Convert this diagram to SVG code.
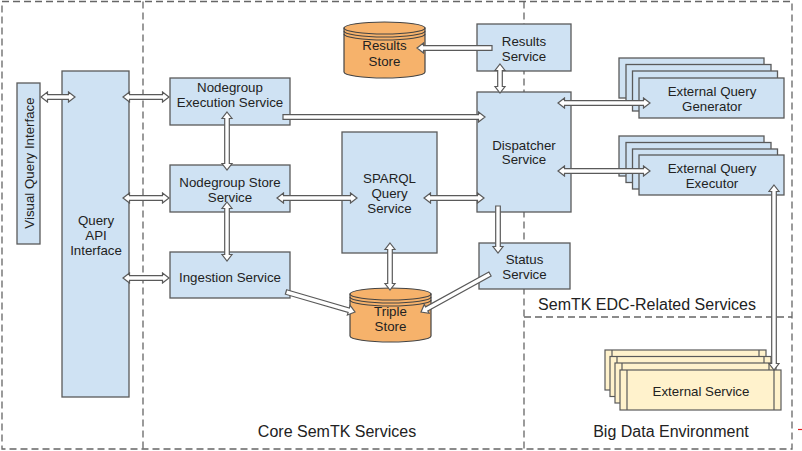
<svg xmlns="http://www.w3.org/2000/svg" width="802" height="451" viewBox="0 0 802 451">
<defs>
<style>
.frame{fill:none;stroke:#666;stroke-width:1.3;stroke-dasharray:7 4}
.box{fill:#cfe2f3;stroke:#5a5a5a;stroke-width:1.3}
.ext{fill:#fff2cc;stroke:#5a5a5a;stroke-width:1.2}
.can{fill:#f6b26b;stroke:#444;stroke-width:1.2}
.arr{fill:#fff;stroke:#5a5a5a;stroke-width:1.2;stroke-linejoin:miter}
text{font-family:"Liberation Sans",Arial,sans-serif;fill:#222}
.t{font-size:13.3px;text-anchor:middle}
.lbl{font-size:16px;text-anchor:middle}
</style>
</defs>
<rect width="802" height="451" fill="#fff"/>
<g id="frames">
<rect class="frame" x="2" y="1.5" width="790" height="447.5"/>
<line class="frame" x1="143" y1="1.5" x2="143" y2="449"/>
<line class="frame" x1="524" y1="1.5" x2="524" y2="449"/>
<line class="frame" x1="524" y1="317" x2="792" y2="317"/>
</g>
<g id="labels">
<text class="lbl" x="337" y="437">Core SemTK Services</text>
<text class="lbl" x="671" y="437">Big Data Environment</text>
<text class="lbl" x="647" y="310">SemTK EDC-Related Services</text>
</g>
<g id="visual-query-interface">
<rect class="box" x="17" y="83" width="23" height="161"/>
<text class="t" transform="translate(33.5,163) rotate(-90)">Visual Query Interface</text>
</g>
<g id="query-api-interface">
<rect class="box" x="62" y="71" width="67" height="326"/>
<text class="t" x="96" y="225">Query</text>
<text class="t" x="96" y="240">API</text>
<text class="t" x="96" y="255">Interface</text>
</g>
<g id="nodegroup-execution-service">
<rect class="box" x="170" y="78" width="120" height="47"/>
<text class="t" x="230" y="92">Nodegroup</text>
<text class="t" x="230" y="107">Execution Service</text>
</g>
<g id="nodegroup-store-service">
<rect class="box" x="170" y="165" width="120" height="47"/>
<text class="t" x="230" y="187">Nodegroup Store</text>
<text class="t" x="230" y="202">Service</text>
</g>
<g id="ingestion-service">
<rect class="box" x="170" y="252" width="120" height="46"/>
<text class="t" x="230" y="282">Ingestion Service</text>
</g>
<g id="sparql-query-service">
<rect class="box" x="342" y="132" width="95" height="121"/>
<text class="t" x="389.5" y="183">SPARQL</text>
<text class="t" x="389.5" y="198">Query</text>
<text class="t" x="389.5" y="213">Service</text>
</g>
<g id="results-service">
<rect class="box" x="477" y="24" width="94" height="47"/>
<text class="t" x="524" y="46">Results</text>
<text class="t" x="524" y="61">Service</text>
</g>
<g id="dispatcher-service">
<rect class="box" x="477" y="92" width="94" height="120"/>
<text class="t" x="524" y="150">Dispatcher</text>
<text class="t" x="524" y="164">Service</text>
</g>
<g id="status-service">
<rect class="box" x="479" y="243" width="91" height="46"/>
<text class="t" x="524.5" y="264">Status</text>
<text class="t" x="524.5" y="279">Service</text>
</g>
<g id="results-store">
<path class="can" d="M344,28 V72 A40.5,6 0 0 0 425,72 V28 Z"/>
<ellipse class="can" cx="384.5" cy="28" rx="40.5" ry="6"/>
<path class="can" fill="none" d="M344,31 A40.5,6 0 0 0 425,31 M344,34 A40.5,6 0 0 0 425,34" style="fill:none"/>
<text class="t" x="384.5" y="50">Results</text>
<text class="t" x="384.5" y="66">Store</text>
</g>
<g id="triple-store">
<path class="can" d="M350,294 V336 A40.5,6 0 0 0 431,336 V294 Z"/>
<ellipse class="can" cx="390.5" cy="294" rx="40.5" ry="6"/>
<path class="can" d="M350,297 A40.5,6 0 0 0 431,297 M350,300 A40.5,6 0 0 0 431,300" style="fill:none"/>
<text class="t" x="390.5" y="316">Triple</text>
<text class="t" x="390.5" y="331">Store</text>
</g>
<g id="external-query-generator">
<rect class="box" x="619" y="58" width="145" height="40"/>
<rect class="box" x="626" y="64.5" width="145" height="40"/>
<rect class="box" x="632.5" y="71" width="145" height="40"/>
<rect class="box" x="639" y="78" width="145" height="40"/>
<text class="t" x="712" y="96">External Query</text>
<text class="t" x="712" y="111">Generator</text>
</g>
<g id="external-query-executor">
<rect class="box" x="619" y="136" width="145" height="40"/>
<rect class="box" x="626" y="142.5" width="145" height="40"/>
<rect class="box" x="632.5" y="149" width="145" height="40"/>
<rect class="box" x="639" y="155" width="145" height="40"/>
<text class="t" x="712" y="173">External Query</text>
<text class="t" x="712" y="188">Executor</text>
</g>
<g id="external-service">
<rect class="ext" x="605" y="350" width="161" height="40"/>
<path class="ext" d="M612,350 V390 M759,350 V390" style="fill:none"/>
<rect class="ext" x="610" y="356.5" width="161" height="40"/>
<path class="ext" d="M617,356.5 V396.5 M764,356.5 V396.5" style="fill:none"/>
<rect class="ext" x="615" y="363" width="161" height="40"/>
<path class="ext" d="M622,363 V403 M769,363 V403" style="fill:none"/>
<rect class="ext" x="620" y="370" width="161" height="40"/>
<path class="ext" d="M627,370 V410 M774,370 V410" style="fill:none"/>
<text class="t" x="701" y="396">External Service</text>
</g>
<g id="connectors">
<polygon class="arr" points="41,97 47.5,92 47.5,94.7 68.5,94.7 68.5,92 75,97 68.5,102 68.5,99.3 47.5,99.3 47.5,102"/>
<polygon class="arr" points="123,97 129.5,92 129.5,94.7 162.5,94.7 162.5,92 169,97 162.5,102 162.5,99.3 129.5,99.3 129.5,102"/>
<polygon class="arr" points="123,198 129.5,193 129.5,195.7 162.5,195.7 162.5,193 169,198 162.5,203 162.5,200.3 129.5,200.3 129.5,203"/>
<polygon class="arr" points="123,278 129.5,273 129.5,275.7 162.5,275.7 162.5,273 169,278 162.5,283 162.5,280.3 129.5,280.3 129.5,283"/>
<polygon class="arr" points="227,112 232,118.5 229.3,118.5 229.3,163.5 232,163.5 227,170 222,163.5 224.7,163.5 224.7,118.5 222,118.5"/>
<polygon class="arr" points="227,202 232,208.5 229.3,208.5 229.3,254.5 232,254.5 227,261 222,254.5 224.7,254.5 224.7,208.5 222,208.5"/>
<polygon class="arr" points="283,114.7 478.5,114.7 478.5,112 485,117 478.5,122 478.5,119.3 283,119.3"/>
<polygon class="arr" points="277,198 283.5,193 283.5,195.7 350.5,195.7 350.5,193 357,198 350.5,203 350.5,200.3 283.5,200.3 283.5,203"/>
<polygon class="arr" points="424,198 430.5,193 430.5,195.7 477.5,195.7 477.5,193 484,198 477.5,203 477.5,200.3 430.5,200.3 430.5,203"/>
<polygon class="arr" points="390,243 395,249.5 392.3,249.5 392.3,283.5 395,283.5 390,290 385,283.5 387.7,283.5 387.7,249.5 385,249.5"/>
<polygon class="arr" points="286.64,289.79 349.40,307.98 350.15,305.39 355,312 347.37,314.99 348.12,312.40 285.36,294.21"/>
<polygon class="arr" points="488.89,271.99 425.58,306.85 424.28,304.48 421,312 429.10,313.24 427.80,310.87 491.11,276.01"/>
<polygon class="arr" points="495.7,206 500.3,206 500.3,246.5 503,246.5 498,253 493,246.5 495.7,246.5"/>
<polygon class="arr" points="492,45.7 423.5,45.7 423.5,43 417,48 423.5,53 423.5,50.3 492,50.3"/>
<polygon class="arr" points="500,64 505,70.5 502.3,70.5 502.3,86.5 505,86.5 500,93 495,86.5 497.7,86.5 497.7,70.5 495,70.5"/>
<polygon class="arr" points="558,103 564.5,98 564.5,100.7 643.5,100.7 643.5,98 650,103 643.5,108 643.5,105.3 564.5,105.3 564.5,108"/>
<polygon class="arr" points="558,171 564.5,166 564.5,168.7 643.5,168.7 643.5,166 650,171 643.5,176 643.5,173.3 564.5,173.3 564.5,176"/>
<polygon class="arr" points="774,185 779,191.5 776.3,191.5 776.3,363.5 779,363.5 774,370 769,363.5 771.7,363.5 771.7,191.5 769,191.5"/>
</g>
<line x1="798" y1="429.5" x2="802" y2="429.5" stroke="#e02020" stroke-width="1.2"/>
</svg>
